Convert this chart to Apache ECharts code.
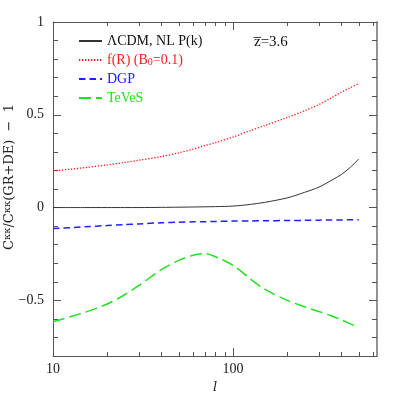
<!DOCTYPE html>
<html>
<head>
<meta charset="utf-8">
<script src="https://cdn.jsdelivr.net/npm/echarts@6/dist/echarts.min.js"></script>
<style>
  html, body { margin: 0; background: #fff; }
  #chart { width: 399px; height: 399px; }
</style>
</head>
<body>
<div id="chart"></div>
<script>
// multipole values
const ell = [10, 15, 20, 25, 30, 40, 50, 60, 70, 80, 100, 125, 150, 200, 250, 300, 350, 400, 450, 500]

const lcdm = [0, 0, 0, 0, 0, 0.001, 0.002, 0.003, 0.004, 0.005, 0.008, 0.017, 0.028, 0.052, 0.082, 0.11, 0.145, 0.178, 0.218, 0.262]
const fR = [0.197, 0.215, 0.23, 0.243, 0.255, 0.275, 0.295, 0.315, 0.335, 0.35, 0.38, 0.415, 0.442, 0.485, 0.522, 0.555, 0.59, 0.622, 0.647, 0.669]
const dgp = [-0.113, -0.104, -0.097, -0.092, -0.088, -0.082, -0.079, -0.077, -0.076, -0.075, -0.073, -0.072, -0.071, -0.07, -0.069, -0.068, -0.067, -0.067, -0.066, -0.066]
const teves = [-0.615, -0.565, -0.52, -0.47, -0.42, -0.335, -0.285, -0.257, -0.248, -0.265, -0.311, -0.385, -0.44, -0.5, -0.535, -0.56, -0.583, -0.605, -0.627, -0.647]

const seriesNames = ['ΛCDM, NL P(k)', 'f(R) (B0=0.1)', 'DGP', 'TeVeS']

const xMajorTicks = [10, 100]
const xMinorTicks = [20, 30, 40, 50, 60, 70, 80, 90, 200, 300, 400, 500, 600]
const yMajorTicks = [-0.5, 0, 0.5, 1]
const yMinorTicks = [-0.7, -0.6, -0.4, -0.3, -0.2, -0.1, 0.1, 0.2, 0.3, 0.4, 0.6, 0.7, 0.8, 0.9]

const FONT = 'Liberation Serif'
const AXIS_COLOR = '#555'

function pairs(values) {
  return ell.map((l, i) => [l, values[i]])
}

function formatY(value) {
  if (value < 0) return '\u2212' + Math.abs(value)
  return String(value)
}

function xAxisDef(position, ticks, len, withLabels) {
  return {
    type: 'log',
    logBase: 10,
    position: position,
    min: 10,
    max: 631,
    axisLine: { show: withLabels, onZero: false, lineStyle: { color: AXIS_COLOR, width: 1 } },
    axisTick: { show: true, inside: true, length: len, customValues: ticks, lineStyle: { color: AXIS_COLOR } },
    axisLabel: {
      show: withLabels && position === 'bottom',
      customValues: xMajorTicks,
      margin: 6,
      color: '#222',
      fontFamily: FONT,
      fontSize: 14
    },
    splitLine: { show: false },
    minorTick: { show: false },
    name: withLabels && position === 'bottom' ? 'l' : '',
    nameLocation: 'middle',
    nameGap: 22,
    nameTextStyle: { fontFamily: 'DejaVu Serif', fontStyle: 'italic', fontSize: 13, color: '#222' }
  }
}

function yAxisDef(position, ticks, len, withLabels) {
  return {
    type: 'value',
    position: position,
    min: -0.8,
    max: 1,
    axisLine: {
      show: withLabels,
      onZero: false,
      lineStyle: { color: position === 'right' ? '#777' : AXIS_COLOR, width: position === 'right' ? 1.6 : 1 }
    },
    axisTick: { show: true, inside: true, length: len, customValues: ticks, lineStyle: { color: AXIS_COLOR } },
    axisLabel: {
      show: withLabels && position === 'left',
      customValues: yMajorTicks,
      formatter: formatY,
      margin: 9,
      color: '#222',
      fontFamily: FONT,
      fontSize: 14
    },
    splitLine: { show: false }
  }
}

const chart = echarts.init(document.getElementById('chart'))

chart.setOption({
  animation: false,
  backgroundColor: '#fff',
  grid: { left: 53, right: 22, top: 22, bottom: 43, outerBoundsMode: 'none' },
  xAxis: [
    xAxisDef('bottom', xMajorTicks, 8, true),
    xAxisDef('bottom', xMinorTicks, 4, false),
    xAxisDef('top', xMajorTicks, 8, true),
    xAxisDef('top', xMinorTicks, 4, false)
  ],
  yAxis: [
    yAxisDef('left', yMajorTicks, 8, true),
    yAxisDef('left', yMinorTicks, 5, false),
    yAxisDef('right', yMajorTicks, 8, true),
    yAxisDef('right', yMinorTicks, 5, false)
  ],
  legend: {
    orient: 'vertical',
    left: 78,
    top: 34,
    itemWidth: 23,
    itemHeight: 14,
    itemGap: 5,
    padding: 0,
    selectedMode: false,
    itemStyle: { color: 'transparent', borderWidth: 0, opacity: 0 },
    textStyle: {
      fontFamily: FONT,
      fontSize: 14,
      lineHeight: 14,
      rich: {
        sub: { fontFamily: FONT, fontSize: 10, verticalAlign: 'bottom', padding: [6, 0, 0, 0] }
      }
    },
    formatter(name) {
      if (name === seriesNames[1]) return 'f(R) (B{sub|0}=0.1)'
      return name
    },
    data: [
      { name: seriesNames[0], textStyle: { color: '#111' } },
      { name: seriesNames[1], textStyle: { color: '#ff1a1a' } },
      { name: seriesNames[2], textStyle: { color: '#2020ff' } },
      { name: seriesNames[3], textStyle: { color: '#22e022' } }
    ]
  },
  graphic: [
    {
      type: 'text',
      x: 254,
      y: 42,
      style: {
        text: 'z\u0305=3.6',
        fontFamily: FONT,
        fontSize: 15,
        fill: '#111',
        verticalAlign: 'middle'
      }
    },
    {
      type: 'text',
      x: 10,
      y: 177,
      rotation: Math.PI / 2,
      style: {
        text: 'C{sup|κκ}/C{sup|κκ}(GR+DE)  \u2212  1',
        fontFamily: 'DejaVu Serif',
        fontSize: 13,
        fill: '#222',
        align: 'center',
        verticalAlign: 'middle',
        rich: {
          sup: { fontFamily: 'DejaVu Serif', fontSize: 10, fill: '#222', padding: [0, 0, 6, 0] }
        }
      }
    }
  ],
  series: [
    {
      name: seriesNames[0],
      type: 'line',
      smooth: 0.3,
      showSymbol: false,
      symbol: 'none',
      color: '#333',
      lineStyle: { color: '#333', width: 1 },
      data: pairs(lcdm)
    },
    {
      name: seriesNames[1],
      type: 'line',
      smooth: 0.3,
      showSymbol: false,
      symbol: 'none',
      color: '#ff1a1a',
      lineStyle: { color: '#ff1a1a', width: 1.3, type: [1.3, 1.7] },
      data: pairs(fR)
    },
    {
      name: seriesNames[2],
      type: 'line',
      smooth: 0.3,
      showSymbol: false,
      symbol: 'none',
      color: '#2020ff',
      lineStyle: { color: '#2020ff', width: 1.5, type: [6.5, 4] },
      data: pairs(dgp)
    },
    {
      name: seriesNames[3],
      type: 'line',
      smooth: 0.3,
      showSymbol: false,
      symbol: 'none',
      color: '#22e022',
      lineStyle: { color: '#22e022', width: 1.5, type: [12, 5] },
      data: pairs(teves)
    }
  ]
})
</script>
</body>
</html>
